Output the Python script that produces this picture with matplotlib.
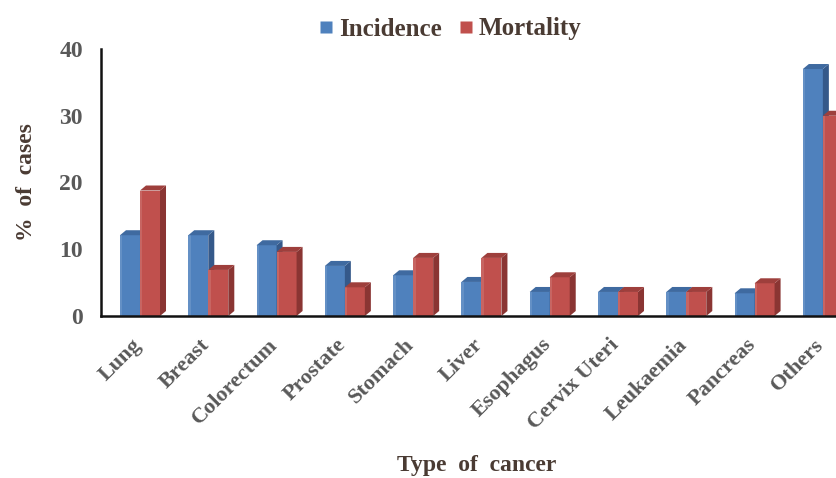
import matplotlib
matplotlib.use("Agg")
import matplotlib.pyplot as plt
import matplotlib.transforms as mtransforms
from matplotlib.patches import Polygon, Rectangle
from matplotlib.lines import Line2D

categories = ["Lung", "Breast", "Colorectum", "Prostate", "Stomach", "Liver",
              "Esophagus", "Cervix Uteri", "Leukaemia", "Pancreas", "Others"]
incidence = [12.1, 12.1, 10.6, 7.5, 6.1, 5.1, 3.6, 3.6, 3.6, 3.4, 37.0]
mortality = [18.8, 6.9, 9.6, 4.3, 8.7, 8.7, 5.8, 3.6, 3.6, 4.9, 30.0]
y_ticks = [0, 10, 20, 30, 40]

SERIF = ["Liberation Serif", "DejaVu Serif"]
TITLE_COLOR = "#4a3b33"
TICK_COLOR = "#595959"

series = [
    # front, side, top
    ("Incidence", incidence, "#4f81bd", "#35598a", "#3f6aa0"),
    ("Mortality", mortality, "#c0504d", "#8a3533", "#9e3f3c"),
]

fig = plt.figure(figsize=(8.37, 4.78), dpi=100)
# plot area runs past the right edge of the figure
ax = fig.add_axes([101 / 837, 162 / 478, 756 / 837, 267 / 478])

bar_w = 0.293      # front face width in data units
depth_x = 0.088    # 3-D depth, horizontal (data units)
depth_y = 0.75     # 3-D depth, vertical (data units)

for i, cat in enumerate(categories):
    for j, (name, vals, c_front, c_side, c_top) in enumerate(series):
        x0 = i - bar_w + j * bar_w
        x1 = x0 + bar_w
        h = vals[i]
        ax.add_patch(Rectangle((x0, 0), bar_w, h, facecolor=c_front,
                               edgecolor="none", zorder=3 + j))
        # light sheen along the left edge of the front face
        ax.add_patch(Rectangle((x0, 0), bar_w * 0.12, h, facecolor="white",
                               alpha=0.12, edgecolor="none", zorder=3 + j))
        ax.add_patch(Polygon([(x1, 0), (x1 + depth_x, depth_y),
                              (x1 + depth_x, h + depth_y), (x1, h)],
                             closed=True, facecolor=c_side, edgecolor="none",
                             zorder=3 + j))
        ax.add_patch(Polygon([(x0, h), (x0 + depth_x, h + depth_y),
                              (x1 + depth_x, h + depth_y), (x1, h)],
                             closed=True, facecolor=c_top, edgecolor="none",
                             zorder=3 + j))

ax.set_xlim(-0.571, 10.5)
ax.set_ylim(0, 40)
ax.set_yticks(y_ticks)
ax.set_yticklabels([str(t) for t in y_ticks], family=SERIF,
                   fontweight="bold", fontsize=17, color=TICK_COLOR)
ax.set_xticks(range(len(categories)))
ax.set_xticklabels(categories, family=SERIF, fontweight="bold", fontsize=16,
                   color=TICK_COLOR, rotation=45, ha="right",
                   rotation_mode="anchor")
ax.tick_params(axis="both", length=0)
ax.tick_params(axis="y", pad=13)
ax.tick_params(axis="x", pad=12)
shift = mtransforms.ScaledTranslation(-9 / 100, -2 / 100, fig.dpi_scale_trans)
for lbl in ax.get_xticklabels():
    lbl.set_transform(lbl.get_transform() + shift)

for side in ("top", "right"):
    ax.spines[side].set_visible(False)
for side in ("left", "bottom"):
    ax.spines[side].set_linewidth(1.8)
    ax.spines[side].set_color("#111111")
    ax.spines[side].set_zorder(6)

ax.set_ylabel("%  of  cases", family=SERIF, fontweight="bold", fontsize=17,
              color=TITLE_COLOR)
ax.yaxis.set_label_coords(-0.084, 0.5)
fig.text(477 / 837, 1 - 465 / 478, "Type  of  cancer", family=SERIF,
         fontweight="bold", fontsize=17, color=TITLE_COLOR,
         ha="center", va="center")

handles = [Line2D([], [], marker="s", linestyle="none", markersize=9,
                  markerfacecolor=s[2], markeredgecolor="none")
           for s in series]
fig.legend(handles, [s[0] for s in series], loc="center",
           bbox_to_anchor=(449 / 837, 1 - 29 / 478), ncol=2, frameon=False,
           prop={"family": SERIF, "weight": "bold", "size": 18},
           labelcolor=TITLE_COLOR, handletextpad=0.1, columnspacing=0.6,
           handlelength=0.8)

fig.savefig("out.png", dpi=100)
